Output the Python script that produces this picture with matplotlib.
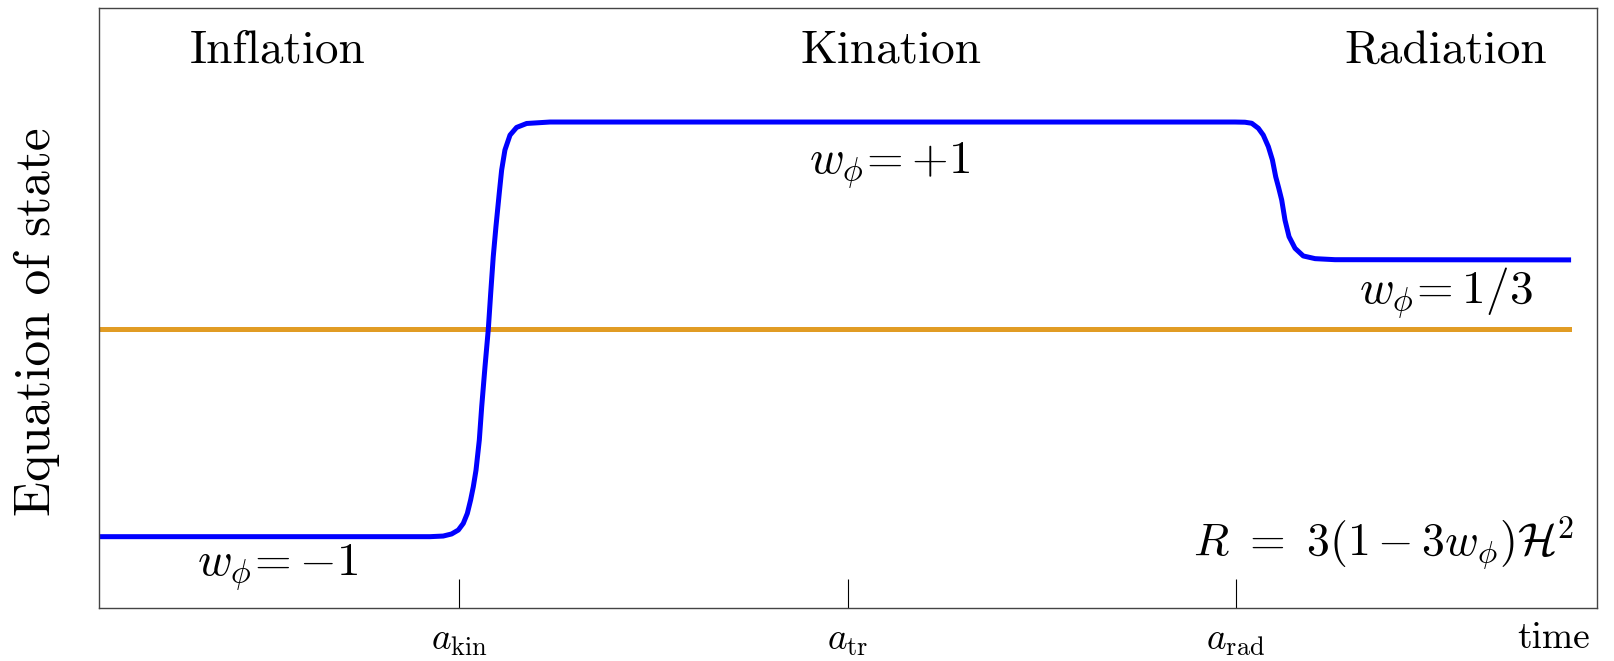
#!/usr/bin/env python3
"""Sketch of the scalar-field equation of state through inflation, kination and radiation."""

import matplotlib

matplotlib.use("Agg")
import matplotlib.pyplot as plt

plt.rcParams["font.family"] = "serif"
plt.rcParams["font.serif"] = ["cmr10", "DejaVu Serif"]
plt.rcParams["mathtext.fontset"] = "cm"
plt.rcParams["axes.formatter.use_mathtext"] = True

# Blue curve: w_phi (time axis scaled 0..1 across the box).
time_w = [0.0, 0.2000, 0.2210, 0.2298, 0.2354, 0.2399, 0.2432, 0.2459,
          0.2481, 0.2499, 0.2517, 0.2539, 0.2555, 0.2577, 0.2599, 0.2615,
          0.2632, 0.2650, 0.2672, 0.2688, 0.2710, 0.2744, 0.2788, 0.2855,
          0.3011, 0.5000, 0.7583, 0.7650, 0.7695, 0.7739, 0.7772, 0.7806,
          0.7833, 0.7855, 0.7875, 0.7895, 0.7917, 0.7944, 0.7984, 0.8039,
          0.8118, 0.8251, 0.9810]
w_phi = [-1.0, -1.0, -1.0, -0.997, -0.987, -0.968, -0.936, -0.888,
         -0.823, -0.759, -0.679, -0.534, -0.373, -0.180, 0.0, 0.174,
         0.350, 0.495, 0.656, 0.768, 0.865, 0.937, 0.974, 0.993,
         1.0, 1.0, 1.0, 0.999, 0.994, 0.970, 0.937, 0.881,
         0.817, 0.736, 0.682, 0.624, 0.527, 0.447, 0.391, 0.354,
         0.341, 0.336, 0.335]

# Orange reference line.
time_ref = [0.0, 0.981]
w_ref = [0.0, 0.0]

tick_pos = [0.2405, 0.5, 0.759]
tick_labels = [r"$a_{\rm kin}$", r"$a_{\rm tr}$", r"$a_{\rm rad}$"]

eras = ["Inflation", "Kination", "Radiation"]
era_x = [0.119, 0.529, 0.899]

state_labels = [r"$w_\phi\!= -1$", r"$w_\phi\!= +1$", r"$w_\phi\!= 1/3$"]
state_xy = [(0.119, -1.15), (0.528, 0.79), (0.899, 0.175)]


def main():
    fig = plt.figure(figsize=(16.14, 6.61), dpi=100)
    ax = fig.add_axes([0.0613, 0.0802, 0.9282, 0.9077])

    ax.plot(time_ref, w_ref, color="#e19c24", lw=3.6, solid_capstyle="projecting")
    ax.plot(time_w, w_phi, color="#0000ff", lw=3.6, solid_capstyle="projecting",
            solid_joinstyle="round")

    for name, x in zip(eras, era_x):
        ax.text(x, 1.342, name, fontsize=34, ha="center", va="center")
    for label, (x, y) in zip(state_labels, state_xy):
        ax.text(x, y, label, fontsize=34, ha="center", va="center")

    ax.text(0.985, -1.03, r"$R\ =\ 3(1-3w_\phi)\mathcal{H}^2$", fontsize=33,
            ha="right", va="center")

    ax.set_xlim(0, 1)
    ax.set_ylim(-1.344, 1.55)
    ax.set_xticks(tick_pos)
    ax.set_xticklabels(tick_labels, fontsize=27)
    ax.set_yticks([])
    ax.tick_params(axis="x", direction="in", length=21, width=0.8, pad=12)

    for spine in ax.spines.values():
        spine.set_color("#444444")
        spine.set_linewidth(1.0)

    ax.text(-0.0415, 0.478, "Equation of state", fontsize=37, rotation=90,
            ha="center", va="center", transform=ax.transAxes)
    ax.text(0.971, -0.05, "time", fontsize=27, ha="center", va="center",
            transform=ax.transAxes)

    fig.savefig("out.png", dpi=100)
    plt.close(fig)


if __name__ == "__main__":
    main()
